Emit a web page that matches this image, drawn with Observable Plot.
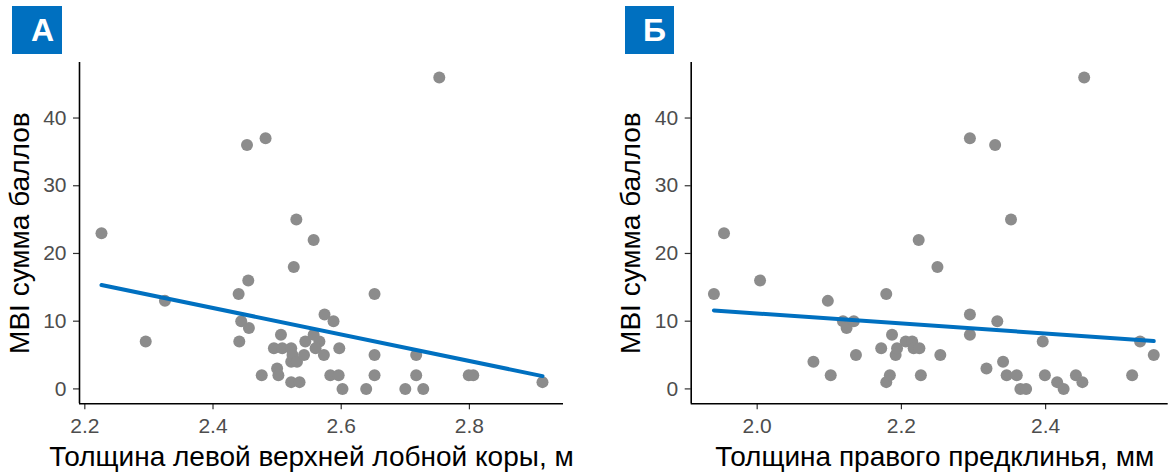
<!DOCTYPE html>
<html>
<head>
<meta charset="utf-8">
<script src="https://cdn.jsdelivr.net/npm/d3@7"></script>
<script src="https://cdn.jsdelivr.net/npm/@observablehq/plot@0.6"></script>
<style>
  html, body { margin: 0; padding: 0; background: #fff; }
  #wrap { position: relative; width: 1171px; height: 476px; font-family: "Liberation Sans", Arial, sans-serif; }
  .panel { position: absolute; top: 0; }
  .tag { position: absolute; top: 6px; height: 48px; background: #0070c0; color: #fff;
         font-weight: bold; font-size: 32px; line-height: 48px; text-align: center; box-sizing: border-box; }
</style>
</head>
<body>
<div id="wrap">
  <div class="tag" style="left:12px;width:50px;padding-left:11px;">А</div>
  <div class="tag" style="left:625px;width:49px;padding-left:10px;">Б</div>
</div>
<script>
// Panel А: left superior frontal cortex thickness vs MBI
const thicknessA = [2.226, 2.295, 2.325, 2.440, 2.441, 2.444, 2.455, 2.456, 2.453, 2.482,
  2.476, 2.495, 2.500, 2.502, 2.506, 2.508, 2.522, 2.524, 2.522, 2.531,
  2.522, 2.535, 2.526, 2.530, 2.542, 2.544, 2.557, 2.566, 2.560, 2.557,
  2.573, 2.574, 2.588, 2.597, 2.583, 2.596, 2.602, 2.639, 2.652, 2.652,
  2.652, 2.700, 2.717, 2.717, 2.728, 2.753, 2.799, 2.806, 2.914];
const mbiA = [23, 7, 13, 14, 7, 10, 16, 9, 36, 37,
  2, 6, 3, 2, 8, 6, 6, 5, 4, 4,
  1, 1, 18, 25, 5, 7, 8, 7, 6, 22,
  5, 11, 10, 6, 2, 2, 0, 0, 14, 5,
  2, 0, 5, 2, 0, 46, 2, 2, 1];

// Panel Б: right precuneus thickness vs MBI
const thicknessB = [1.940, 1.954, 2.004, 2.078, 2.098, 2.102, 2.119, 2.124, 2.134, 2.137,
  2.172, 2.179, 2.179, 2.184, 2.187, 2.192, 2.194, 2.206, 2.215, 2.217,
  2.225, 2.224, 2.227, 2.250, 2.254, 2.295, 2.295, 2.295, 2.318, 2.330,
  2.333, 2.341, 2.346, 2.352, 2.360, 2.365, 2.373, 2.396, 2.399, 2.416,
  2.425, 2.442, 2.451, 2.4535, 2.520, 2.531, 2.550];
const mbiB = [14, 23, 16, 4, 13, 2, 10, 9, 10, 5,
  6, 14, 1, 2, 8, 5, 6, 7, 7, 6,
  6, 22, 2, 18, 5, 37, 11, 8, 3, 36,
  10, 4, 2, 25, 2, 0, 0, 7, 2, 1,
  0, 2, 1, 46, 2, 7, 5];

const yTicks = [0, 10, 20, 30, 40];
const xTicksA = [2.2, 2.4, 2.6, 2.8];
const xTicksB = [2.0, 2.2, 2.4];
const yLabel = "MBI сумма баллов";
const xLabelA = "Толщина левой верхней лобной коры, м";
const xLabelB = "Толщина правого предклинья, мм";

const yDomain = [-2.2, 48.2];
const xDomainA = [2.1917, 2.9468];
const xDomainB = [1.9085, 2.570];

function panel({xs, ys, xDomain, xTicks, xLabel, width, marginLeft, marginRight, xLabelDx}) {
  const data = xs.map((x, i) => ({x, y: ys[i]}));
  return Plot.plot({
    width, height: 476,
    marginLeft, marginRight, marginTop: 62, marginBottom: 72.7,
    x: {domain: xDomain},
    y: {domain: yDomain},
    style: {fontFamily: "'Liberation Sans', Arial, sans-serif", background: "transparent", color: "#000", overflow: "visible"},
    marks: [
      Plot.axisY(yTicks, {tickSize: 6, tickPadding: 7, fontSize: 21, stroke: "#333", fill: "#4d4d4d", strokeWidth: 1.2, label: null}),
      Plot.axisX(xTicks, {tickSize: 6, tickPadding: 8, fontSize: 21, stroke: "#333", fill: "#4d4d4d", strokeWidth: 1.2, tickFormat: d3.format(".1f"), label: null}),
      Plot.ruleX([xDomain[0]], {stroke: "#000", strokeWidth: 1.6}),
      Plot.ruleY([yDomain[0]], {stroke: "#000", strokeWidth: 1.6}),
      Plot.dot(data, {x: "x", y: "y", r: 6, fill: "#8c8c8c"}),
      Plot.linearRegressionY(data, {x: "x", y: "y", stroke: "#0070c0", strokeWidth: 4, ci: 0}),
      Plot.text([xLabel], {text: d => d, frameAnchor: "bottom", textAnchor: "middle", dx: xLabelDx, dy: 62, lineAnchor: "bottom", fontSize: 28, fill: "#000"}),
      Plot.text([yLabel], {text: d => d, frameAnchor: "left", textAnchor: "middle", rotate: -90, dx: -51, lineAnchor: "bottom", fontSize: 28, fill: "#000"})
    ]
  });
}

const wrap = document.getElementById("wrap");
const pA = panel({xs: thicknessA, ys: mbiA, xDomain: xDomainA, xTicks: xTicksA, xLabel: xLabelA,
  width: 585, marginLeft: 79, marginRight: 22, xLabelDx: -10});
pA.classList.add("panel"); pA.style.left = "0px";
const pB = panel({xs: thicknessB, ys: mbiB, xDomain: xDomainB, xTicks: xTicksB, xLabel: xLabelB,
  width: 586, marginLeft: 105.7, marginRight: 3.3, xLabelDx: 5});
pB.classList.add("panel"); pB.style.left = "585px";
wrap.insertBefore(pB, wrap.firstChild);
wrap.insertBefore(pA, wrap.firstChild);
</script>
</body>
</html>
